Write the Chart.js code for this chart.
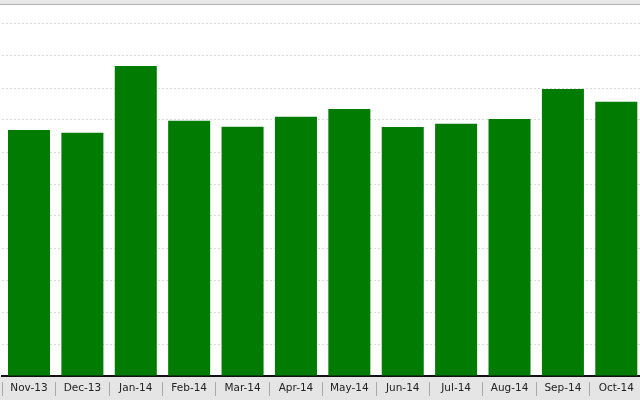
<!DOCTYPE html>
<html>
<head>
<meta charset="utf-8">
<script src="https://cdn.jsdelivr.net/npm/chart.js@4/dist/chart.umd.min.js"></script>
<style>
  html, body { margin: 0; padding: 0; width: 640px; height: 400px; overflow: hidden; background: #fff; }
  canvas { display: block; }
</style>
</head>
<body>
<canvas id="monthChart" width="643" height="400"></canvas>
<script>
var months = ['Nov-13', 'Dec-13', 'Jan-14', 'Feb-14', 'Mar-14', 'Apr-14',
              'May-14', 'Jun-14', 'Jul-14', 'Aug-14', 'Sep-14', 'Oct-14'];
var totals = [76.9, 76.0, 96.9, 79.8, 77.9, 81.0, 83.4, 77.8, 78.8, 80.3, 89.7, 85.7];

// grey strips above the plot and behind the month labels
var framePlugin = {
  id: 'frame',
  beforeDraw: function(chart) {
    var c = chart.ctx, a = chart.chartArea;
    c.save();
    c.fillStyle = '#e5e5e5';
    c.fillRect(0, a.bottom, chart.width, chart.height - a.bottom);
    c.restore();
  },
  afterDraw: function(chart) {
    var c = chart.ctx;
    c.save();
    c.fillStyle = '#e8e8e8';
    c.fillRect(0, 0, chart.width, 4);
    c.fillStyle = '#b4b4b4';
    c.fillRect(0, 4, chart.width, 1);
    c.restore();
  }
};

var ctx = document.getElementById('monthChart').getContext('2d');
var monthChart = new Chart(ctx, {
  type: 'bar',
  data: {
    labels: months,
    datasets: [{
      data: totals,
      backgroundColor: '#017b01',
      borderWidth: 0,
      barPercentage: 0.787,
      categoryPercentage: 1.0
    }]
  },
  options: {
    responsive: false,
    animation: false,
    layout: { padding: { left: 2.3, right: 0, top: 4, bottom: 0 } },
    plugins: {
      legend: { display: false },
      tooltip: { enabled: false }
    },
    scales: {
      x: {
        offset: true,
        grid: {
          offset: true,
          drawOnChartArea: false,
          drawTicks: true,
          tickLength: 20,
          tickColor: '#a9a9a9',
          tickBorderDash: [0, 5, 15, 60],
          color: '#a9a9a9'
        },
        border: { display: true, color: '#111', width: 2 },
        ticks: {
          padding: -14,
          color: '#222',
          maxRotation: 0,
          font: { family: 'DejaVu Sans', size: 10.5 }
        },
        afterFit: function(scale) { scale.height = 24; }
      },
      y: {
        min: 0,
        max: 116.25,
        ticks: { display: false, stepSize: 10 },
        grid: { color: '#dadada', lineWidth: 1, drawTicks: false },
        border: { display: false, dash: [2, 2] },
        afterFit: function(scale) { scale.width = 0; }
      }
    }
  },
  plugins: [framePlugin]
});
</script>
</body>
</html>
